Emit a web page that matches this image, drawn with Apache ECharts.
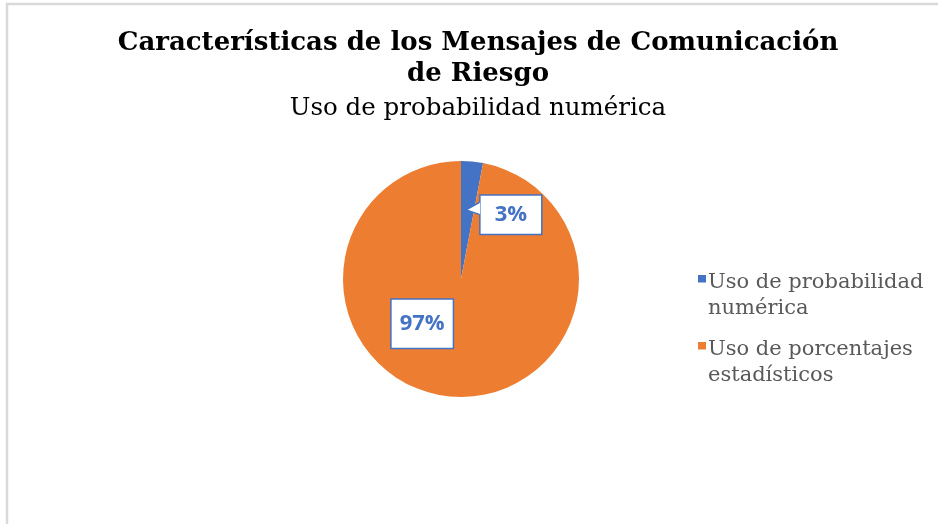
<!DOCTYPE html>
<html>
<head>
<meta charset="utf-8">
<script src="https://cdn.jsdelivr.net/npm/echarts@6/dist/echarts.min.js"></script>
<style>
  html, body { margin: 0; padding: 0; background: #fff; }
  #chart { width: 938px; height: 524px; }
</style>
</head>
<body>
<div id="chart"></div>
<script>
// Message characteristics: share of messages using numeric probability vs. statistical percentages
const titleText = 'Características de los Mensajes de Comunicación\nde Riesgo';
const subtitleText = 'Uso de probabilidad numérica';
const categories = ['Uso de probabilidad numérica', 'Uso de porcentajes estadísticos'];
const values = [3, 97];
const colors = ['#4472C4', '#ED7D31'];

const serif = '"DejaVu Serif", "Liberation Serif", serif';
const labelBlue = '#4472C4';

// per-slice label tweaks: offset from the inside position and box padding
const labelShift = [[44, -2.5], [-33, -17]];
const labelPad = [[8, 14], [13, 8]];

// legend names wrap before their last word
function wrapName(name) {
  const i = name.lastIndexOf(' ');
  return [name.slice(0, i), name.slice(i + 1)];
}

// legend swatch: square sitting in the upper half of a taller cell,
// so it lines up with the first line of the wrapped name
function swatch(color) {
  const c = document.createElement('canvas');
  c.width = 8; c.height = 16;
  const g = c.getContext('2d');
  g.fillStyle = color;
  g.fillRect(0, 0, 8, 8);
  return c;
}

const rich = { t: { fontFamily: serif, fontSize: 21, color: '#595959', lineHeight: 26, padding: [0, 0, 0, 2] },
               sp: { width: 8, height: 8 } };
categories.forEach((c, i) => {
  rich['m' + i] = { width: 8, height: 16, backgroundColor: { image: swatch(colors[i]) } };
});

const chart = echarts.init(document.getElementById('chart'), null, { renderer: 'canvas' });
chart.setOption({
  animation: false,
  backgroundColor: '#fff',
  title: [
    {
      text: titleText,
      left: 473,
      textAlign: 'center',
      top: 23,
      textStyle: { fontFamily: serif, fontWeight: 'bold', fontSize: 26, lineHeight: 31, color: '#000' }
    },
    {
      text: subtitleText,
      left: 473,
      textAlign: 'center',
      top: 89,
      textStyle: { fontFamily: serif, fontWeight: 'normal', fontSize: 24.5, lineHeight: 30, color: '#000' }
    }
  ],
  legend: {
    orient: 'vertical',
    left: 688,
    top: 267,
    itemWidth: 0,
    itemHeight: 0,
    itemGap: 20,
    icon: 'rect',
    data: categories,
    formatter: function (name) {
      const i = categories.indexOf(name);
      const lines = wrapName(name);
      return '{m' + i + '|}{t|' + lines[0] + '}\n{sp|}{t|' + lines[1] + '}';
    },
    textStyle: { rich: rich }
  },
  graphic: [
    { type: 'rect', shape: { x: 7, y: 4, width: 940, height: 530 }, style: { fill: 'none', stroke: '#D9D9D9', lineWidth: 2.5 }, silent: true }
  ],
  series: [{
    type: 'pie',
    center: [461, 279],
    radius: [0, 118],
    startAngle: 90,
    clockwise: true,
    data: categories.map((c, i) => ({
      name: c,
      value: values[i],
      itemStyle: { color: colors[i] },
      label: { padding: labelPad[i] }
    })),
    label: {
      show: true,
      position: 'inside',
      formatter: '{d}%',
      fontFamily: '"Open Sans", "Noto Sans", sans-serif',
      fontWeight: 'bold',
      fontSize: 22,
      color: labelBlue,
      backgroundColor: '#fff',
      borderColor: labelBlue,
      borderWidth: 1.5
    },
    labelLayout: function (p) {
      const s = labelShift[p.dataIndex];
      return { dx: s[0], dy: s[1] };
    },
    labelLine: { show: false },
    emphasis: { disabled: true }
  }]
});

// callout pointer on the small slice's label box, taken from the laid-out label
const sliceEl = chart.getModel().getSeriesByIndex(0).getData().getItemGraphicEl(0);
const callout = sliceEl && sliceEl.getTextContent();
if (callout) {
  const r = callout.getBoundingRect().clone();
  r.applyTransform(callout.getComputedTransform());
  const x0 = r.x, y0 = r.y + r.height * 0.2, y1 = r.y + r.height * 0.49;
  const tip = [x0 - 13, r.y + r.height * 0.38];
  const zr = chart.getZr();
  zr.add(new echarts.graphic.Polygon({
    z: 100, silent: true,
    shape: { points: [[x0 + 1, y0], tip, [x0 + 1, y1]] },
    style: { fill: '#fff' }
  }));
  zr.add(new echarts.graphic.Polyline({
    z: 101, silent: true,
    shape: { points: [[x0, y0], tip, [x0, y1]] },
    style: { stroke: labelBlue, lineWidth: 1.5, fill: null }
  }));
}
</script>
</body>
</html>
